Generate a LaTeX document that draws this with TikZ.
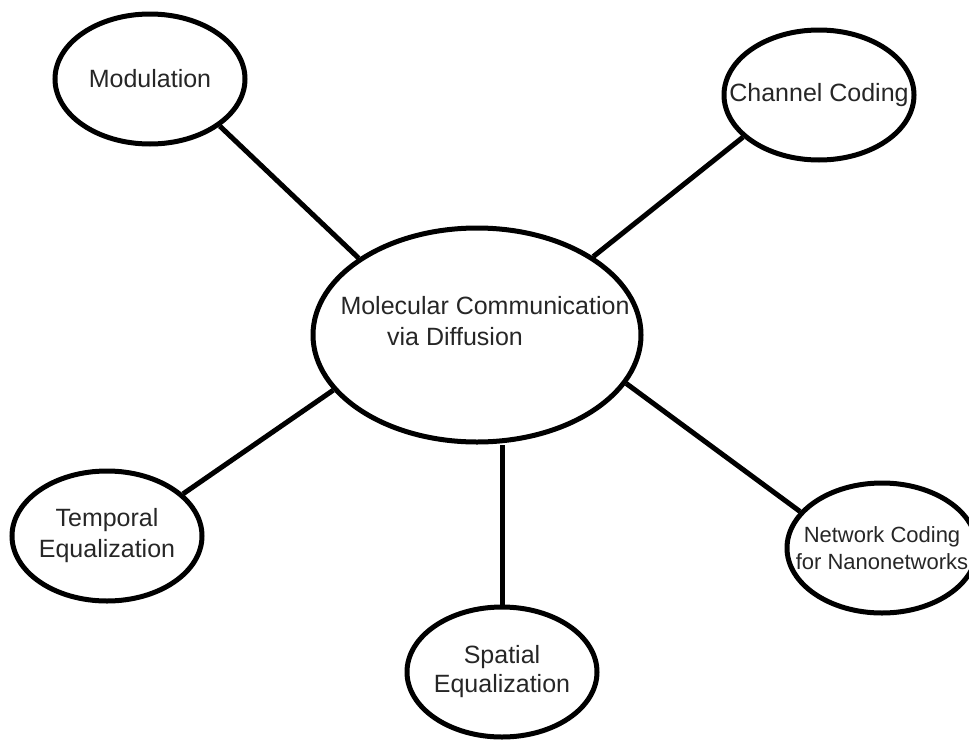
\documentclass[tikz,border=0pt]{standalone}
\usepackage{fontspec}
\setmainfont{Liberation Sans}
\usetikzlibrary{shapes.geometric}
\begin{document}
\begin{tikzpicture}[x=1pt,y=-1pt,
  bubble/.style={draw=black, line width=5pt, ellipse, inner xsep=-45pt, inner ysep=-20pt,
    minimum width=190pt, minimum height=130pt, align=center,
    font=\fontsize{25}{31}\selectfont, text=black!85},
  link/.style={draw=black, line width=5pt},
  txt/.style={inner sep=0pt, anchor=base, font=\fontsize{25}{31}\selectfont, text=black!85}]
\useasboundingbox (0,0) rectangle (969,739);
% centre
\node[bubble, minimum width=328pt, minimum height=214pt] (main) at (477,335) {};
\node[txt] (m1) at (485,314) {Molecular Communication};
\node[txt] (m2) at (455,345) {via Diffusion};
% satellites
\node[bubble] (mod) at (150,79) {Modulation};
\node[bubble] (chan) at (819,95) {Channel Coding};
\node[bubble] (temp) at (107,536) {Temporal\\Equalization};
\node[bubble, font=\fontsize{25}{29}\selectfont] (spat) at (502,672) {Spatial\\Equalization};
\node[bubble, font=\fontsize{22}{27}\selectfont] (net) at (882,548) {Network Coding\\for Nanonetworks};
% connectors
\draw[link] (mod.-34) -- (main.147);
\draw[link] (chan.209) -- (main.34.5);
\draw[link] (temp.29) -- (main.201.5);
\draw[link] (spat.north) -- (spat.north |- main.south);
\draw[link] (main.-18) -- (net.156);
\end{tikzpicture}
\end{document}
